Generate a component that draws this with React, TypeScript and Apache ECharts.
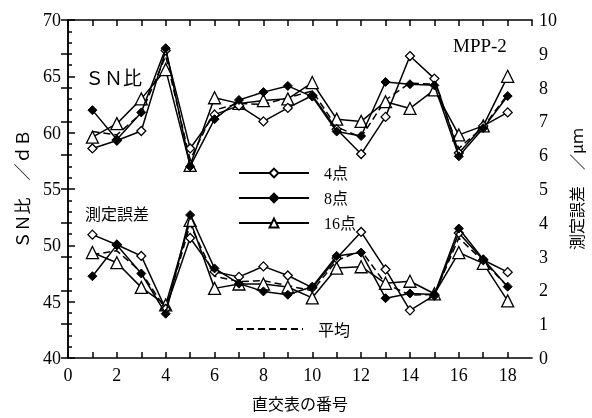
import React, { useEffect, useRef } from "react";
import * as echarts from "echarts";

const xs = [1, 2, 3, 4, 5, 6, 7, 8, 9, 10, 11, 12, 13, 14, 15, 16, 17, 18];
const xTicks = [0, 2, 4, 6, 8, 10, 12, 14, 16, 18];

// SN比 (dB), left axis
const sn4 = [58.6, 59.3, 60.15, 67.3, 58.6, 61.6, 62.4, 61.0, 62.2, 63.3, 60.3, 58.1, 61.4, 66.8, 64.8, 58.2, 60.6, 61.8];
const sn8 = [62.0, 59.4, 61.8, 67.5, 57.0, 61.2, 62.9, 63.6, 64.15, 63.2, 60.1, 59.7, 64.5, 64.3, 64.2, 57.9, 60.4, 63.25];
const sn16 = [59.6, 60.8, 63.0, 65.6, 57.1, 63.1, 62.6, 62.85, 63.0, 64.45, 61.2, 61.0, 62.75, 62.15, 63.8, 59.8, 60.6, 65.0];
const snAvg = [60.1, 59.8, 61.7, 66.8, 57.6, 62.0, 62.6, 62.5, 63.1, 63.7, 60.5, 59.6, 62.9, 64.4, 64.3, 58.6, 60.5, 63.4];

// 測定誤差 (μm), right axis
const err4 = [3.65, 3.35, 3.02, 1.45, 3.55, 2.55, 2.4, 2.71, 2.44, 2.08, 2.95, 3.73, 2.62, 1.41, 1.85, 3.7, 2.9, 2.54];
const err8 = [2.42, 3.34, 2.5, 1.31, 4.23, 2.65, 2.2, 1.97, 1.87, 2.11, 3.02, 3.12, 1.77, 1.91, 1.88, 3.83, 2.92, 2.11];
const err16 = [3.12, 2.82, 2.09, 1.57, 4.07, 2.06, 2.19, 2.19, 2.1, 1.78, 2.66, 2.7, 2.21, 2.27, 1.9, 3.12, 2.8, 1.69];
const errAvg = [3.06, 3.17, 2.54, 1.44, 3.95, 2.42, 2.26, 2.29, 2.14, 1.99, 2.88, 3.18, 2.2, 1.86, 1.88, 3.55, 2.87, 2.11];

const SERIF = "'Liberation Serif', 'Noto Sans CJK JP', serif";
const JP = "'Noto Sans CJK JP', sans-serif";

const pairs = (ys: number[]) => xs.map((x, i) => [x, ys[i]]);

export default function App() {
  const ref = useRef<HTMLDivElement>(null);
  useEffect(() => {
    if (!ref.current) return;
    const chart = echarts.init(ref.current, undefined, { renderer: "svg" });
    const lineStyle = { color: "#000", width: 1.5 };
    const styles: Record<string, any> = {
      "4点": { symbol: "diamond", symbolSize: 9, itemStyle: { color: "#fff", borderColor: "#000", borderWidth: 1.3 }, lineStyle, z: 4 },
      "8点": { symbol: "diamond", symbolSize: 9, itemStyle: { color: "#000", borderColor: "#000", borderWidth: 1 }, lineStyle, z: 5 },
      "16点": { symbol: "triangle", symbolSize: 12, itemStyle: { color: "#fff", borderColor: "#000", borderWidth: 1.3 }, lineStyle, z: 3 },
      "平均": { symbol: "none", itemStyle: { color: "#000" }, lineStyle: { color: "#000", width: 1.5, type: [7, 4] }, z: 2 },
    };
    const mk = (name: string, data: number[], yAxisIndex: number) => ({
      type: "line",
      name,
      data: pairs(data),
      yAxisIndex,
      xAxisIndex: 0,
      showSymbol: name !== "平均",
      ...styles[name],
    });
    const axisLine = { show: true, lineStyle: { color: "#000", width: 1.5 } };
    const tick = { show: true, inside: true, length: 6, lineStyle: { color: "#000", width: 1.5 } };
    chart.setOption({
      animation: false,
      grid: { left: 68, right: 47, top: 20, bottom: 60 },
      legend: [
        {
          data: ["4点", "8点", "16点"],
          orient: "vertical",
          left: 233,
          top: 160,
          itemWidth: 70,
          itemHeight: 11,
          itemGap: 9,
          selectedMode: false,
          textStyle: { fontFamily: SERIF, fontSize: 16, color: "#000", padding: [0, 0, 0, 10] },
        },
        {
          data: ["平均"],
          orient: "vertical",
          left: 230,
          top: 316,
          itemWidth: 67,
          itemHeight: 14,
          selectedMode: false,
          itemStyle: { opacity: 0 },
          textStyle: { fontFamily: JP, fontSize: 16, color: "#000", padding: [0, 0, 0, 10] },
        },
      ],
      xAxis: [
        {
          type: "value",
          min: 0,
          max: 19,
          interval: 1,
          position: "bottom",
          axisLine,
          axisTick: tick,
          splitLine: { show: false },
          axisLabel: {
            color: "#000",
            fontFamily: SERIF,
            fontSize: 18,
            margin: 8,
            showMaxLabel: false,
            formatter: (v: number) => (xTicks.includes(v) ? String(v) : ""),
          },
          name: "直交表の番号",
          nameLocation: "middle",
          nameGap: 37,
          nameTextStyle: { fontFamily: JP, fontSize: 16, color: "#000" },
        },
        {
          type: "value",
          min: 0,
          max: 19,
          interval: 1,
          position: "top",
          axisLine,
          axisTick: tick,
          splitLine: { show: false },
          axisLabel: { show: false },
        },
      ],
      yAxis: [
        {
          type: "value",
          min: 40,
          max: 70,
          interval: 5,
          position: "left",
          axisLine,
          axisTick: { ...tick, length: 7 },
          minorTick: { show: true, splitNumber: 5, length: 4, lineStyle: { color: "#000", width: 1.5 } },
          splitLine: { show: false },
          minorSplitLine: { show: false },
          axisLabel: { color: "#000", fontFamily: SERIF, fontSize: 18, margin: 7 },
          name: "ＳＮ比　／ｄＢ",
          nameLocation: "middle",
          nameRotate: 90,
          nameGap: 38,
          nameTextStyle: { fontFamily: JP, fontSize: 17, color: "#000" },
        },
        {
          type: "value",
          min: 0,
          max: 10,
          interval: 1,
          position: "right",
          axisLine,
          axisTick: { ...tick, length: 7 },
          splitLine: { show: false },
          axisLabel: { color: "#000", fontFamily: SERIF, fontSize: 18, margin: 7 },
          name: "測定誤差　／μｍ",
          nameLocation: "middle",
          nameRotate: 90,
          nameGap: 24,
          nameTextStyle: { fontFamily: JP, fontSize: 16, color: "#000" },
        },
      ],
      graphic: [
        { type: "text", left: 85, top: 67, style: { text: "ＳＮ比", fontFamily: JP, fontSize: 19, fill: "#000" } },
        { type: "text", left: 85, top: 205, style: { text: "測定誤差", fontFamily: JP, fontSize: 16, fill: "#000" } },
        { type: "text", left: 453, top: 36, style: { text: "MPP-2", fontFamily: SERIF, fontSize: 19, fill: "#000" } },
      ],
      series: [
        mk("平均", snAvg, 0),
        mk("平均", errAvg, 1),
        mk("16点", sn16, 0),
        mk("16点", err16, 1),
        mk("4点", sn4, 0),
        mk("4点", err4, 1),
        mk("8点", sn8, 0),
        mk("8点", err8, 1),
      ],
    });
    return () => chart.dispose();
  }, []);
  return <div ref={ref} style={{ position: "fixed", left: 0, top: 0, width: 592, height: 418 }} />;
}
